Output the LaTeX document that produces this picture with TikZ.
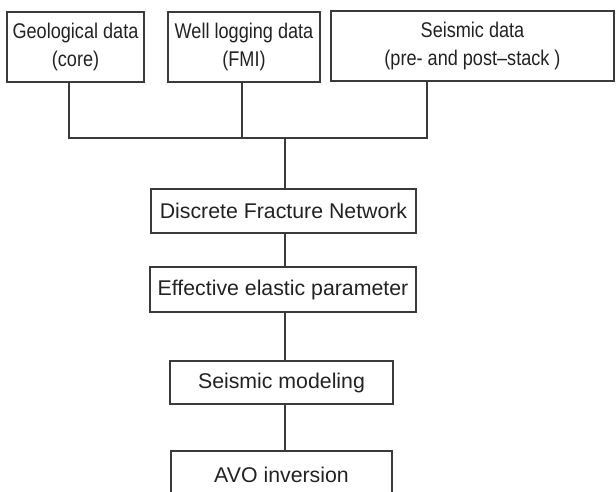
\documentclass[tikz,border=0pt]{standalone}
\usepackage{fontspec}
\setmainfont{Liberation Sans}
\newfontfamily\narrowfont[FakeStretch=0.85]{Liberation Sans}
\definecolor{linec}{HTML}{3A3A3A}
\definecolor{textc}{HTML}{222222}
\begin{document}
\begin{tikzpicture}[x=1pt,y=1pt,
  box/.style={draw=linec, line width=1.3pt, rectangle, inner sep=0pt, text=textc,
    font=\fontsize{21.3}{26}\selectfont},
  topbox/.style={box, align=center, minimum height=70pt,
    font=\narrowfont\fontsize{21.3}{27.5}\selectfont},
  midbox/.style={box, minimum height=44pt},
  conn/.style={draw=linec, line width=1.3pt}]
\useasboundingbox (0,0) rectangle (616,491);
\node[topbox, minimum width=137pt] (geo) at (75.5,444) {Geological data\\(core)};
\node[topbox, minimum width=152pt] (well) at (244,444) {Well logging data\\(FMI)};
\node[topbox, minimum width=283pt] (seis) at (472.5,445) {Seismic data\\(pre- and post–stack )};
\node[midbox, minimum width=265pt] (dfn) at (283.5,280) {Discrete Fracture Network};
\node[midbox, minimum width=266pt, minimum height=45pt] (eff) at (283,201.5) {Effective elastic parameter};
\node[midbox, minimum width=223pt, minimum height=43pt] (sm) at (281.5,108.5) {Seismic modeling};
\node[box, minimum width=221pt, minimum height=60pt, text depth=0pt] (avo) at (281.5,10) {\raisebox{12pt}{AVO inversion}};
\coordinate (h1) at (69,353);
\coordinate (h2) at (242,353);
\coordinate (h3) at (427,353);
\coordinate (hm) at (285,353);
\draw[conn] (h1 |- geo.south) -- (h1) -- (h3) -- (h3 |- seis.south);
\draw[conn] (h2 |- well.south) -- (h2);
\draw[conn] (hm) -- (hm |- dfn.north);
\draw[conn] (hm |- dfn.south) -- (hm |- eff.north);
\draw[conn] (hm |- eff.south) -- (hm |- sm.north);
\draw[conn] (hm |- sm.south) -- (hm |- avo.north);
\end{tikzpicture}
\end{document}
